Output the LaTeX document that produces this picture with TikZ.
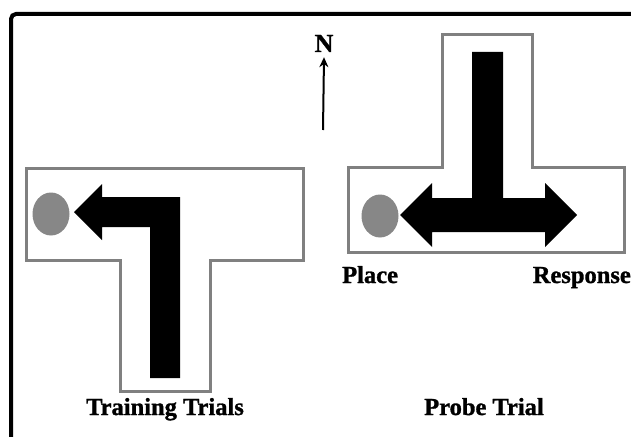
\documentclass[tikz,border=0pt]{standalone}
\usepackage{fontspec}
\setmainfont{Liberation Serif}[BoldFeatures={FakeBold=1.2}]
\usetikzlibrary{arrows.meta}
\begin{document}
\begin{tikzpicture}[x=1pt,y=-1pt,
  maze/.style={draw=black!50,line width=3pt,fill=white,line join=miter},
  goal/.style={fill=black!47,draw=none},
  route/.style={fill=black,draw=none},
  lbl/.style={font=\bfseries\fontsize{24.5}{28}\selectfont,inner sep=0pt}]
\useasboundingbox (0,0) rectangle (631,436);
% outer frame
\draw[line width=4pt,rounded corners=5pt] (11,450) -- (11,14) -- (650,14);
% left T maze (training)
\draw[maze] (26,168) -- (303,168) -- (303,260) -- (210,260) -- (210,391) -- (120,391) -- (120,260) -- (26,260) -- cycle;
\fill[goal] (51,214) ellipse (18.5pt and 21.5pt);
\fill[route] (180,378) -- (150,378) -- (150,227) -- (102,227) -- (102,240) -- (74,212) -- (102,184) -- (102,197) -- (180,197) -- cycle;
% right T maze (probe)
\draw[maze] (442,35) -- (532,35) -- (532,167) -- (624,167) -- (624,252) -- (348,252) -- (348,167) -- (442,167) -- cycle;
\fill[goal] (380,216) ellipse (18.5pt and 21.5pt);
\fill[route] (472,52) -- (503,52) -- (503,198) -- (545,198) -- (545,183) -- (577,215) -- (545,247) -- (545,232) -- (432,232) -- (432,247) -- (400,215) -- (432,183) -- (432,198) -- (472,198) -- cycle;
% north arrow
\node[lbl,font=\bfseries\fontsize{26}{30}\selectfont,anchor=base] (N) at (324,52) {N};
\coordinate (nbase) at (323,130);
\draw[line width=2pt,-{Stealth[length=10pt,width=9pt]}] (nbase) -- ([yshift=-5pt]N.south);
% labels
\node[lbl,anchor=base west] (place) at (342,283) {Place};
\node[lbl,anchor=base east] (resp) at (631,283) {Response};
\node[lbl,anchor=base] (train) at (165,415) {Training Trials};
\node[lbl,anchor=base] (probe) at (484,415) {Probe Trial};
\end{tikzpicture}
\end{document}
